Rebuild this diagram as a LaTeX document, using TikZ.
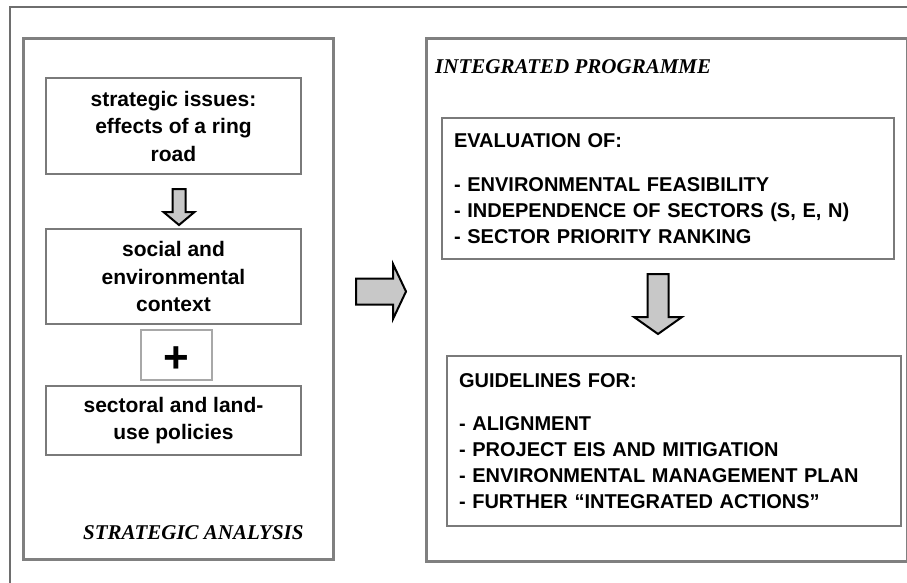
\documentclass[tikz,border=0pt]{standalone}
\usepackage{fontspec}
\setmainfont{Liberation Sans}
\newfontfamily\titlefont{Liberation Serif}
\usetikzlibrary{calc}

\definecolor{frameline}{HTML}{6E6E6E}
\definecolor{panelline}{HTML}{808080}
\definecolor{boxline}{HTML}{7A7A7A}
\definecolor{plusline}{HTML}{A8A8A8}
\definecolor{arrowfill}{HTML}{C8C8C8}

\begin{document}
\begin{tikzpicture}[x=1pt,y=-1pt,
  frame/.style={draw=frameline, line width=1.5pt},
  panel/.style={draw=panelline, line width=3pt, anchor=north west, inner sep=0pt},
  lbox/.style={draw=boxline, line width=2pt, anchor=north west, inner sep=0pt,
    minimum width=255pt, align=center,
    font=\fontsize{21}{27.5}\selectfont\bfseries},
  rbox/.style={draw=boxline, line width=2pt, anchor=north west, inner xsep=12pt,
    inner ysep=0pt, align=left,
    font=\fontsize{20}{26}\selectfont\bfseries},
  plusbox/.style={draw=plusline, line width=1.5pt, inner sep=0pt,
    minimum width=71pt, minimum height=50pt},
  plussign/.style={inner sep=0pt, font=\fontsize{44}{44}\selectfont\bfseries},
  paneltitle/.style={anchor=west, inner sep=0pt,
    font=\titlefont\fontsize{21}{25}\selectfont\bfseries\itshape},
  blockarrow/.style={draw=black, line width=2pt, fill=arrowfill, line join=miter}
]
\useasboundingbox (0,0) rectangle (907,583);

% surrounding frame (only its top and left sides fall inside the page)
\draw[frame] (10,600) -- (10,7) -- (920,7);

% left panel: strategic analysis
\node[panel, minimum width=310pt, minimum height=521pt] (sa) at (22,37) {};
\node[lbox, minimum height=96pt] (b1) at (45,77)
  {strategic issues:\\effects of a ring\\road};
\node[lbox, minimum height=95pt] (b2) at (45,228)
  {social and\\environmental\\context};
\node[plusbox] (pb) at (176.5,355) {};
\node[plussign] (plus) at ($(pb.center)+(0,5)$) {+};
\node[lbox, minimum height=69pt] (b3) at (45,385)
  {sectoral and land-\\use policies};
\node[paneltitle] (satitle) at (83,533) {STRATEGIC ANALYSIS};

% arrow from the issues to the context
\coordinate (a1) at ($(b1.south)+(5.5,14)$);
\draw[blockarrow, shift={(a1)}]
  (-6.5,0) -- (-6.5,23) -- (-15.5,23) -- (0,36) -- (15.5,23) -- (6.5,23) -- (6.5,0) -- cycle;

% right panel: integrated programme
\node[panel, minimum width=481pt, minimum height=523pt] (ip) at (425,37) {};
\node[paneltitle] (iptitle) at (435,67) {INTEGRATED PROGRAMME};
\node[rbox, minimum width=452pt, minimum height=141pt, text width=428pt] (ev) at (441,117)
  {EVALUATION OF:\\[18pt]
   - ENVIRONMENTAL FEASIBILITY\\
   - INDEPENDENCE OF SECTORS (S, E, N)\\
   - SECTOR PRIORITY RANKING};
\node[rbox, minimum width=454pt, minimum height=170pt, text width=430pt] (gl) at (446,355)
  {GUIDELINES FOR:\\[17pt]
   - ALIGNMENT\\
   - PROJECT EIS AND MITIGATION\\
   - ENVIRONMENTAL MANAGEMENT PLAN\\
   - FURTHER “INTEGRATED ACTIONS”};

% arrow from the evaluation to the guidelines
\coordinate (a2) at ($(ev.south)+(-10,14)$);
\draw[blockarrow, shift={(a2)}]
  (-10.5,0) -- (-10.5,43) -- (-24,43) -- (0,60) -- (24,43) -- (10.5,43) -- (10.5,0) -- cycle;

% arrow from the analysis to the programme
\coordinate (a3) at ($(sa.east)+(21,-7.5)$);
\draw[blockarrow, shift={(a3)}]
  (0,-13) -- (37,-13) -- (37,-27.5) -- (50,0) -- (37,27.5) -- (37,13) -- (0,13) -- cycle;
\end{tikzpicture}
\end{document}
